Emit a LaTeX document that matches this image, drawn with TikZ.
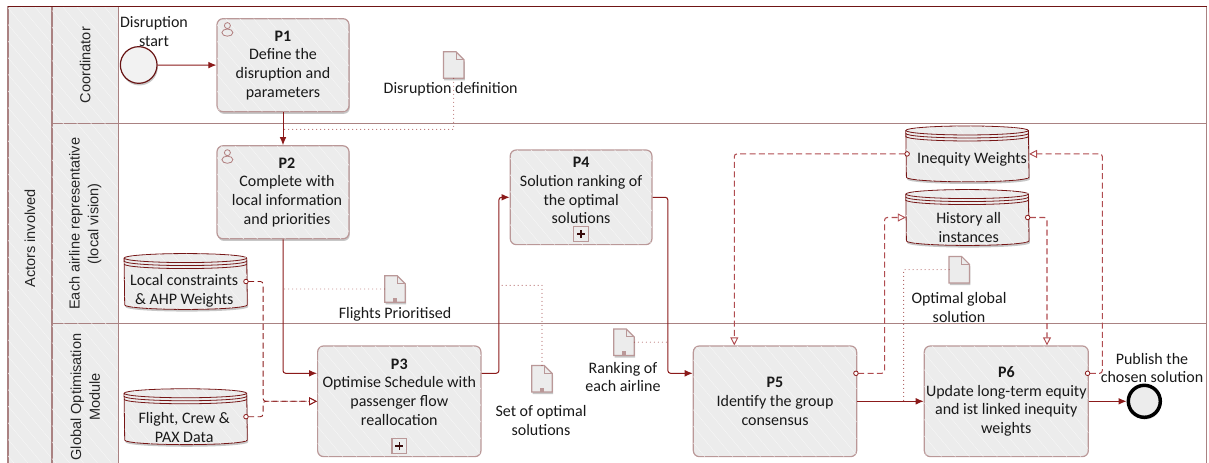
\documentclass[tikz,border=0pt]{standalone}
\definecolor{flowred}{RGB}{139, 26, 26}
\definecolor{dashred}{RGB}{176, 76, 80}
\definecolor{laneline}{RGB}{170, 130, 130}
\definecolor{boxline}{RGB}{186, 152, 152}
\definecolor{boxgrey}{RGB}{236, 236, 236}
\usepackage{fontspec}
\setmainfont{Carlito}
\setsansfont{Liberation Sans}
\usepackage{tikz}
\usetikzlibrary{shapes, arrows.meta, positioning, calc, patterns.meta, shadows}

\tikzset{
  softshadow/.style={drop shadow={shadow xshift=.6pt, shadow yshift=-1.6pt, opacity=.22, fill=black}},
  hatch/.style={postaction={pattern={Lines[angle=-50, distance=8pt, line width=.3pt]}, pattern color=white!97!black}},
  lanehead/.style={draw=laneline, fill=boxgrey, hatch, line width=.8pt, rotate=90, align=center, inner sep=0pt,
    text=black!85, font=\sffamily\fontsize{10.9}{14}\selectfont},
  lanebody/.style={draw=laneline, line width=.8pt, inner sep=0pt, minimum width=816pt},
  procbox/.style={draw=boxline, fill=boxgrey, hatch, line width=.9pt, rounded corners=4.5pt, align=center, inner sep=0pt,
    text=black!90, font=\fontsize{12}{14}\selectfont},
  lbl/.style={align=center, inner sep=0pt, text=black!90, font=\fontsize{12}{14}\selectfont},
  storebox/.style={inner sep=0pt, minimum width=92pt, minimum height=41.5pt},
  storeline/.style={draw=flowred!85!black, line width=.6pt},
  docbox/.style={inner sep=0pt, minimum width=15pt, minimum height=19.5pt},
  docline/.style={draw=boxline, fill=boxgrey, line width=.9pt},
  seqflow/.style={draw=flowred, line width=.75pt, rounded corners=2pt, -{Latex[length=6pt, width=5pt]}},
  dataflow/.style={draw=dashred, line width=.8pt, rounded corners=2pt, dash pattern=on 4.5pt off 2.5pt, shorten <=-3pt,
    {Circle[fill=white, length=4pt, width=4pt, color=flowred, line width=.6pt]}-{Triangle[fill=white, length=6pt, width=6pt, line width=.7pt]}},
  darkflow/.style={dataflow, draw=flowred, line width=.65pt},
  assoc/.style={draw=flowred, line width=.7pt, line cap=round, dash pattern=on 0pt off 3pt},
}

% data store, with its text a little off centre
\newcommand{\datastore}[4]{
  \node[storebox] (#1) at (#2) {};
  \draw[storeline, fill=boxgrey, softshadow, hatch] ($(#1.north west)+(0,-4.5)$) arc[start angle=180, end angle=0, x radius=61.3, y radius=4.5]
    -- ($(#1.south east)+(0,4.5)$) arc[start angle=0, end angle=-180, x radius=61.3, y radius=4.5] -- cycle;
  \foreach \gap in {0,3,6}
    \draw[storeline] ($(#1.north west)+(0,-4.5-\gap)$) arc[start angle=180, end angle=360, x radius=61.3, y radius=4.5];
  \node[lbl] (#1text) at ($(#1)+(#3)$) {#4};
}

% document icon
\newcommand{\docicon}[2]{
  \node[docbox] (#1) at (#2) {};
  \draw[docline, softshadow] (#1.south west) -- (#1.north west) -- ($(#1.north east)+(-8,0)$) -- ($(#1.north east)+(0,-8)$) -- (#1.south east) -- cycle;
  \draw[draw=boxline, line width=.7pt] ($(#1.north east)+(-8,0)$) |- ($(#1.north east)+(0,-8)$);
}
\newcommand{\docmark}[1]{
  \fill[boxline] ($(#1.south)+(-2,0)$) rectangle ($(#1.south)+(2,4)$);
}

% person in the top corner of a task
\newcommand{\actoricon}[1]{
  \draw[boxline!80!flowred, line width=.6pt] ($(#1.north west)+(11,-7.5)$) circle[radius=3];
  \draw[boxline!80!flowred, line width=.6pt] ($(#1.north west)+(11,-14.5)$) ellipse[x radius=5.5, y radius=3.6];
}

% plus marker at the bottom of a task
\newcommand{\submark}[1]{
  \node[draw=boxline, line width=.9pt, inner sep=0pt, minimum size=11pt, above=2.5pt of #1.south] (#1plus) {};
  \draw[black!60!flowred, line width=1.1pt] ($(#1plus)+(-4,0)$) -- ($(#1plus)+(4,0)$) ($(#1plus)+(0,-4)$) -- ($(#1plus)+(0,4)$);
}

\begin{document}
\begin{tikzpicture}[x=0.75pt, y=0.75pt]
  \useasboundingbox (0,0) rectangle (1209,-463);

  % lanes
  \node[lanehead, minimum width=347.6pt, minimum height=33pt] (actors) at (30,-238.3) {Actors involved};
  \node[lanehead, minimum width=87.9pt, minimum height=50pt] (headcoord) at (85.3,-65.1) {Coordinator};
  \node[lanehead, minimum width=150pt, minimum height=50pt] (headair) at (85.3,-223.7) {Each airline representative\\(local vision)};
  \node[lanehead, minimum width=110pt, minimum height=50pt] (headglob) at (85.3,-397) {Global Optimisation\\Module};
  \node[lanebody, minimum height=87.9pt] (lanecoord) at (662.7,-65.1) {};
  \node[lanebody, minimum height=150pt] (laneair) at (662.7,-223.7) {};
  \node[lanebody, minimum height=110pt] (laneglob) at (662.7,-397) {};
  \draw[flowred!80!black, line width=.9pt] (8,-6.5) -- (1206.7,-6.5);

  % events
  \node[circle, draw=flowred!75!black, fill=black!5, line width=.9pt, minimum size=27.5pt, inner sep=0pt, softshadow] (start) at (138.7,-65) {};
  \node[circle, draw=black, fill=boxgrey, line width=2.6pt, minimum size=24pt, inner sep=0pt, softshadow] (finish) at (1144.3,-401.3) {};
  \node[lbl] (startlbl) at (154,-31.5) {Disruption\\start};
  \node[lbl] (finishlbl) at (1152,-368) {Publish the\\chosen solution};

  % tasks
  \node[procbox, softshadow, minimum width=99pt, minimum height=69.75pt] (P1) at (283,-65.2) {\textbf{P1}\\Define the\\disruption and\\parameters};
  \node[procbox, softshadow, minimum width=99pt, minimum height=69.75pt] (P2) at (283,-192.3) {\hspace*{6pt}\textbf{P2}\\\hspace*{6pt}Complete with\\\hspace*{6pt}local information\\\hspace*{6pt}and priorities};
  \node[procbox, minimum width=122.5pt, minimum height=83pt] (P3) at (399.3,-401.3) {\textbf{P3}\\Optimise Schedule with\\passenger flow\\reallocation\\\mbox{}};
  \node[procbox, minimum width=106.3pt, minimum height=71pt] (P4) at (581.1,-197.3) {\textbf{P4}\\Solution ranking of\\the optimal\\solutions\\[-4pt]\mbox{}};
  \node[procbox, minimum width=122.5pt, minimum height=83pt] (P5) at (775,-401.3) {\textbf{P5}\\Identify the group\\consensus};
  \node[procbox, minimum width=123pt, minimum height=83pt] (P6) at (1006.3,-401.3) {\textbf{P6}\\Update long-term equity\\and ist linked inequity\\weights};
  \actoricon{P1}
  \actoricon{P2}
  \submark{P3}
  \submark{P4}

  % data stores
  \datastore{localdb}{185.7,-281.5}{-1.5,-9}{Local constraints\\\& AHP Weights}
  \datastore{flightdb}{185.7,-416.7}{-1.5,-11}{Flight, Crew \&\\PAX Data}
  \datastore{inequitydb}{967.4,-153.9}{4.6,-5}{Inequity Weights}
  \datastore{historydb}{967.4,-217.5}{1.3,-10}{History all\\instances}

  % documents
  \docicon{docdisrupt}{453.7,-65}
  \docicon{docflights}{395,-289}
  \docicon{docset}{542,-378.7}
  \docicon{docrank}{624,-342.2}
  \docicon{docoptimal}{959.3,-269.7}
  \docmark{docflights}
  \docmark{docset}
  \docmark{docrank}
  \node[lbl] (disruptlbl) at (450.7,-89) {Disruption definition};
  \node[lbl] (flightslbl) at (395,-314) {Flights Prioritised};
  \node[lbl] (setlbl) at (541,-420.5) {Set of optimal\\solutions};
  \node[lbl] (ranklbl) at (623,-377) {Ranking of\\each airline};
  \node[lbl] (optimallbl) at (959,-307.5) {Optimal global\\solution};

  % sequence flows
  \coordinate (P3bend) at ($(P3.east)+(17.3,28)$);
  \coordinate (P4bend) at ($(P4.east)+(15.3,0)$);
  \draw[seqflow] (start) -- (P1);
  \draw[seqflow] (P1) -- (P2);
  \draw[seqflow] (P2.south) |- ($(P3.west)+(0,28)$);
  \draw[seqflow] ($(P3.east)+(0,28)$) -- (P3bend) |- (P4.west);
  \draw[seqflow] (P4.east) -- (P4bend) |- ($(P5.west)+(0,28)$);
  \draw[seqflow] (P5.east) -- (P6.west);
  \draw[seqflow] (P6.east) -- (finish.west);

  % data flows
  \draw[darkflow] (localdb.east) -- ++(15.8,0) |- (P3.west);
  \draw[darkflow] (flightdb.east) -- ++(15.8,0) |- (P3.west);
  \draw[dataflow] (inequitydb.west) -| ($(P5.north)+(-40.7,0)$);
  \draw[dataflow] ($(P5.east)+(0,28)$) -- ++(27.3,0) |- (historydb.west);
  \draw[dataflow] (historydb.east) -| ($(P6.north)+(40.7,0)$);
  \draw[dataflow] ($(P6.east)+(0,28)$) -- ++(13.4,0) |- (inequitydb.east);

  % associations
  \coordinate (P1joint) at ($(P1.south)+(0,-17)$);
  \coordinate (P3joint) at ($(P3bend)+(0,88)$);
  \coordinate (P6joint) at ($(P6.west)+(-20,0)$);
  \draw[assoc] (docdisrupt.south) |- (P1joint);
  \draw[assoc] (docflights.west) -- (docflights.west -| P2.south);
  \draw[assoc] (docset.north) |- (P3joint);
  \draw[assoc] (docrank.east) -- (docrank.east -| P4bend);
  \draw[assoc] (docoptimal.west) -| (P6joint);
\end{tikzpicture}
\end{document}
